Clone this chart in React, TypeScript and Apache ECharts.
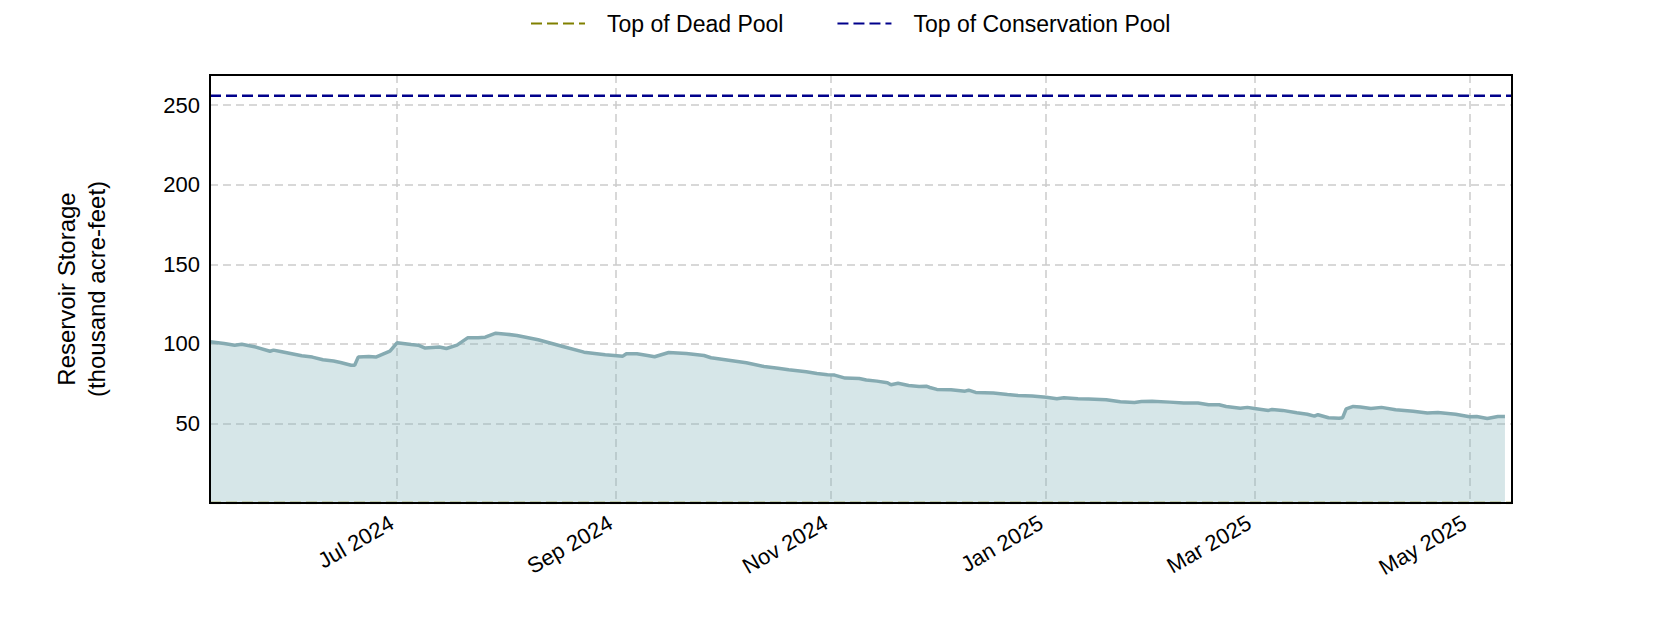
import React, { useEffect, useRef } from 'react';
import * as echarts from 'echarts';

const storageDates = [
  '2024-05-09', '2024-05-13', '2024-05-16', '2024-05-18', '2024-05-22', '2024-05-26', '2024-05-27', '2024-05-29',
  '2024-06-04', '2024-06-07', '2024-06-10', '2024-06-13', '2024-06-15', '2024-06-18', '2024-06-19', '2024-06-20',
  '2024-06-23', '2024-06-25', '2024-06-29', '2024-07-01', '2024-07-05', '2024-07-07', '2024-07-09', '2024-07-13',
  '2024-07-15', '2024-07-18', '2024-07-21', '2024-07-24', '2024-07-26', '2024-07-29', '2024-08-01', '2024-08-04',
  '2024-08-10', '2024-08-17', '2024-08-23', '2024-08-29', '2024-09-03', '2024-09-04', '2024-09-07', '2024-09-10',
  '2024-09-12', '2024-09-16', '2024-09-21', '2024-09-26', '2024-09-28', '2024-10-04', '2024-10-08', '2024-10-13',
  '2024-10-17', '2024-10-20', '2024-10-25', '2024-10-28', '2024-10-31', '2024-11-02', '2024-11-05', '2024-11-09',
  '2024-11-11', '2024-11-14', '2024-11-17', '2024-11-18', '2024-11-20', '2024-11-23', '2024-11-26', '2024-11-28',
  '2024-11-29', '2024-12-01', '2024-12-05', '2024-12-09', '2024-12-10', '2024-12-12', '2024-12-17', '2024-12-21',
  '2024-12-24', '2024-12-28', '2025-01-01', '2025-01-04', '2025-01-06', '2025-01-10', '2025-01-13', '2025-01-18',
  '2025-01-22', '2025-01-26', '2025-01-28', '2025-01-31', '2025-02-05', '2025-02-09', '2025-02-13', '2025-02-16',
  '2025-02-19', '2025-02-21', '2025-02-25', '2025-02-27', '2025-03-01', '2025-03-05', '2025-03-06', '2025-03-09',
  '2025-03-13', '2025-03-16', '2025-03-18', '2025-03-19', '2025-03-22', '2025-03-25', '2025-03-26', '2025-03-27',
  '2025-03-29', '2025-03-31', '2025-04-03', '2025-04-06', '2025-04-10', '2025-04-15', '2025-04-19', '2025-04-22',
  '2025-04-27', '2025-05-01', '2025-05-03', '2025-05-06', '2025-05-09', '2025-05-11',
];

const storageValues = [
  101.3, 100.3, 99.2, 99.8, 98.0, 95.4, 96.1, 95.2,
  92.5, 91.7, 90.0, 89.2, 88.3, 86.6, 86.6, 91.7,
  92.1, 91.7, 95.4, 100.7, 99.6, 99.2, 97.4, 98.0,
  97.1, 99.2, 103.8, 103.8, 104.2, 106.7, 106.1, 105.3,
  102.6, 98.4, 94.8, 93.2, 92.3, 93.8, 93.8, 92.7,
  91.9, 94.6, 94.0, 92.7, 91.3, 89.4, 88.1, 85.8,
  84.7, 83.7, 82.5, 81.4, 80.6, 80.4, 78.5, 78.3,
  77.3, 76.6, 75.6, 74.3, 75.3, 73.9, 73.2, 73.4,
  72.6, 71.4, 71.2, 70.3, 70.9, 69.5, 69.1, 68.2,
  67.6, 67.2, 66.5, 65.5, 66.1, 65.5, 65.3, 64.9,
  63.6, 63.2, 63.8, 64.0, 63.4, 62.8, 62.8, 61.7,
  61.7, 60.7, 59.6, 60.1, 59.4, 58.2, 58.8, 58.2,
  56.7, 55.8, 54.6, 55.5, 53.6, 53.3, 53.6, 59.2,
  60.7, 60.4, 59.4, 60.1, 58.6, 57.7, 56.5, 56.9,
  55.8, 54.2, 54.4, 53.1, 54.4, 54.4,
];

const tickDates = ['2024-07-01', '2024-09-01', '2024-11-01', '2025-01-01', '2025-03-01', '2025-05-01'];
const tickLabels = ['Jul 2024', 'Sep 2024', 'Nov 2024', 'Jan 2025', 'Mar 2025', 'May 2025'];
const yTickValues = [50, 100, 150, 200, 250];
const axisStart = '2024-05-09';
const axisEnd = '2025-05-13';
const yMin = 0;
const yMax = 269;
const deadPoolValue = 0;
const conservationPoolValue = 256;
const legendNames = ['Top of Dead Pool', 'Top of Conservation Pool'];
const yAxisTitleLines = ['Reservoir Storage', '(thousand acre-feet)'];

function toTs(s: string): number {
  const [y, m, d] = s.split('-').map(Number);
  return new Date(y, m - 1, d).getTime();
}

export default function App() {
  const ref = useRef<HTMLDivElement>(null);

  useEffect(() => {
    if (!ref.current) return;
    const chart = echarts.init(ref.current, null, { renderer: 'svg' });
    const ticks = tickDates.map(toTs);
    const xMin = toTs(axisStart);
    const xMax = toTs(axisEnd);
    const font = "'Liberation Sans', Arial, sans-serif";
    const gridLine = { show: true, lineStyle: { color: '#cccccc', width: 1.5, type: [8, 5] } };

    chart.setOption({
      animation: false,
      backgroundColor: '#ffffff',
      textStyle: { fontFamily: font },
      grid: { left: 210, top: 75, right: 168, bottom: 127, containLabel: false },
      legend: {
        data: legendNames,
        left: 525,
        top: 7,
        itemWidth: 54,
        itemHeight: 14,
        itemGap: 53,
        itemStyle: { color: 'transparent', borderColor: 'transparent', borderWidth: 0, opacity: 0 },
        textStyle: { fontSize: 23, color: '#000', fontFamily: font, padding: [0, 0, 0, 17] },
      },
      xAxis: {
        type: 'value',
        min: xMin,
        max: xMax,
        axisLine: { show: false },
        axisTick: { show: false, customValues: ticks },
        axisLabel: {
          customValues: ticks,
          rotate: 30,
          margin: 15,
          fontSize: 22,
          color: '#000',
          fontFamily: font,
          padding: [0, 6, 0, 0],
          formatter: (v: number) => {
            const i = ticks.findIndex((t) => Math.abs(t - v) < 3600000 * 3);
            return i >= 0 ? tickLabels[i] : '';
          },
        },
        splitLine: gridLine,
      },
      yAxis: {
        type: 'value',
        min: yMin,
        max: yMax,
        axisLine: { show: false },
        axisTick: { show: false, customValues: yTickValues },
        axisLabel: { customValues: yTickValues, margin: 10, fontSize: 22, color: '#000', fontFamily: font },
        splitLine: gridLine,
      },
      series: [
        {
          name: 'Reservoir Storage',
          type: 'line',
          data: storageDates.map((d, i) => [toTs(d), storageValues[i]]),
          symbol: 'none',
          lineStyle: { color: '#86abb2', width: 3.5 },
          itemStyle: { color: '#86abb2' },
          areaStyle: { color: '#84b3b9', opacity: 0.33 },
          z: 2,
        },
        {
          name: legendNames[0],
          type: 'line',
          data: [[xMin, deadPoolValue], [xMax, deadPoolValue]],
          symbol: 'none',
          lineStyle: { color: '#808000', width: 2.5, type: [11, 5] },
          itemStyle: { color: '#808000' },
          z: 3,
        },
        {
          name: legendNames[1],
          type: 'line',
          data: [[xMin, conservationPoolValue], [xMax, conservationPoolValue]],
          symbol: 'none',
          lineStyle: { color: '#00008b', width: 2.5, type: [11, 5] },
          itemStyle: { color: '#00008b' },
          z: 3,
        },
      ],
      graphic: [
        {
          type: 'rect',
          z: 100,
          shape: { x: 210, y: 75, width: 1302, height: 428 },
          style: { fill: 'none', stroke: '#000', lineWidth: 2 },
        },
        {
          type: 'text',
          x: 81,
          y: 289,
          rotation: Math.PI / 2,
          style: {
            text: yAxisTitleLines.join('\n'),
            fontSize: 24,
            fontFamily: font,
            lineHeight: 30,
            align: 'center',
            verticalAlign: 'middle',
            fill: '#000',
          },
        },
      ],
    });

    return () => chart.dispose();
  }, []);

  return (
    <div
      ref={ref}
      style={{ position: 'fixed', left: 0, top: 0, width: 1680, height: 630, background: '#fff' }}
    />
  );
}
